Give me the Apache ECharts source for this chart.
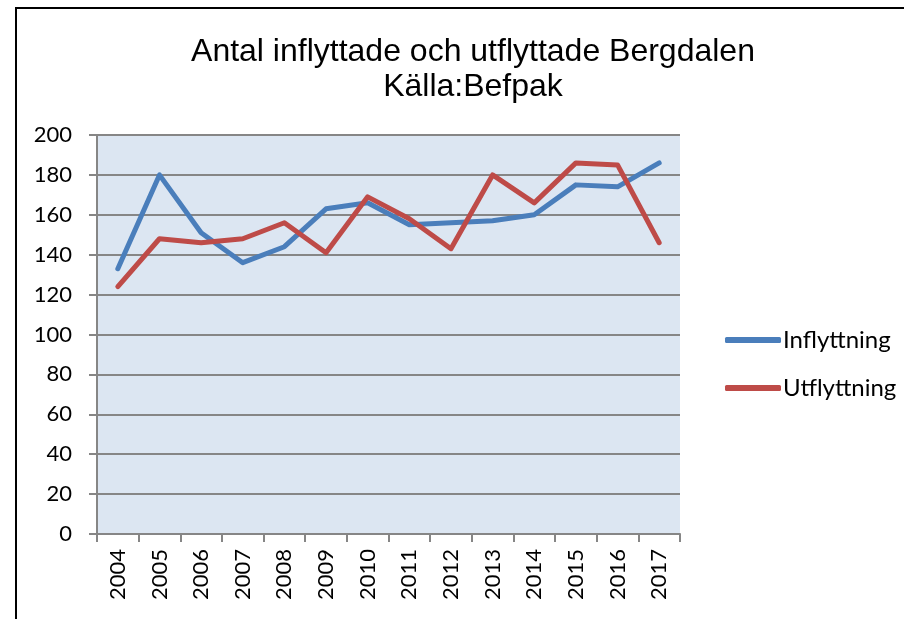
<!DOCTYPE html>
<html>
<head>
<meta charset="utf-8">
<script src="https://cdn.jsdelivr.net/npm/echarts@6/dist/echarts.min.js"></script>
<style>
  html, body { margin: 0; padding: 0; background: #fff; }
  #chart { width: 904px; height: 619px; }
</style>
</head>
<body>
<div id="chart"></div>
<script>
// data
var years = ['2004', '2005', '2006', '2007', '2008', '2009', '2010',
             '2011', '2012', '2013', '2014', '2015', '2016', '2017'];
var inflyttning = [133, 180, 151, 136, 144, 163, 166, 155, 156, 157, 160, 175, 174, 186];
var utflyttning = [124, 148, 146, 148, 156, 141, 169, 158, 143, 180, 166, 186, 185, 146];

var labelFont = 'Lato, "Open Sans", sans-serif';

var chart = echarts.init(document.getElementById('chart'));
chart.setOption({
  animation: false,
  backgroundColor: '#fff',
  title: {
    text: 'Antal inflyttade och utflyttade Bergdalen\nKälla:Befpak',
    left: 468,
    top: 30,
    textAlign: 'center',
    textStyle: {
      fontFamily: '"Liberation Sans", Arial, sans-serif',
      fontWeight: 'normal',
      fontSize: 32,
      lineHeight: 35,
      color: '#000'
    }
  },
  graphic: [{
    type: 'rect',
    shape: { x: 16, y: 8, width: 1000, height: 1000 },
    style: { fill: 'none', stroke: '#000', lineWidth: 2 },
    silent: true
  }],
  legend: {
    orient: 'vertical',
    left: 720,
    top: 323,
    itemGap: 24,
    itemWidth: 56,
    itemHeight: 6,
    icon: 'roundRect',
    textStyle: { fontFamily: labelFont, fontSize: 24, color: '#000', padding: [0, 0, 0, -3] },
    data: ['Inflyttning', 'Utflyttning']
  },
  grid: {
    left: 97, top: 135, right: 224, bottom: 85,
    show: true, backgroundColor: '#DCE6F2', borderWidth: 0
  },
  xAxis: {
    type: 'category',
    data: years,
    boundaryGap: true,
    axisLine: { lineStyle: { color: '#868686', width: 2 } },
    axisTick: { show: true, length: 8, lineStyle: { color: '#868686', width: 2 } },
    axisLabel: {
      rotate: 90, interval: 0, margin: 15,
      fontFamily: labelFont, fontSize: 22, color: '#000'
    }
  },
  yAxis: {
    type: 'value',
    min: 0, max: 200, interval: 20,
    axisLine: { show: true, lineStyle: { color: '#868686', width: 2 } },
    axisTick: { show: true, length: 8, lineStyle: { color: '#868686', width: 2 } },
    splitLine: { lineStyle: { color: '#868686', width: 2 } },
    axisLabel: { margin: 25, fontFamily: labelFont, fontSize: 22, color: '#000' }
  },
  series: [
    {
      name: 'Inflyttning', type: 'line', data: inflyttning,
      symbol: 'none', color: '#4A7EBB',
      lineStyle: { width: 5, cap: 'round', join: 'round' }
    },
    {
      name: 'Utflyttning', type: 'line', data: utflyttning,
      symbol: 'none', color: '#BE4B48',
      lineStyle: { width: 5, cap: 'round', join: 'round' }
    }
  ]
});
</script>
</body>
</html>
